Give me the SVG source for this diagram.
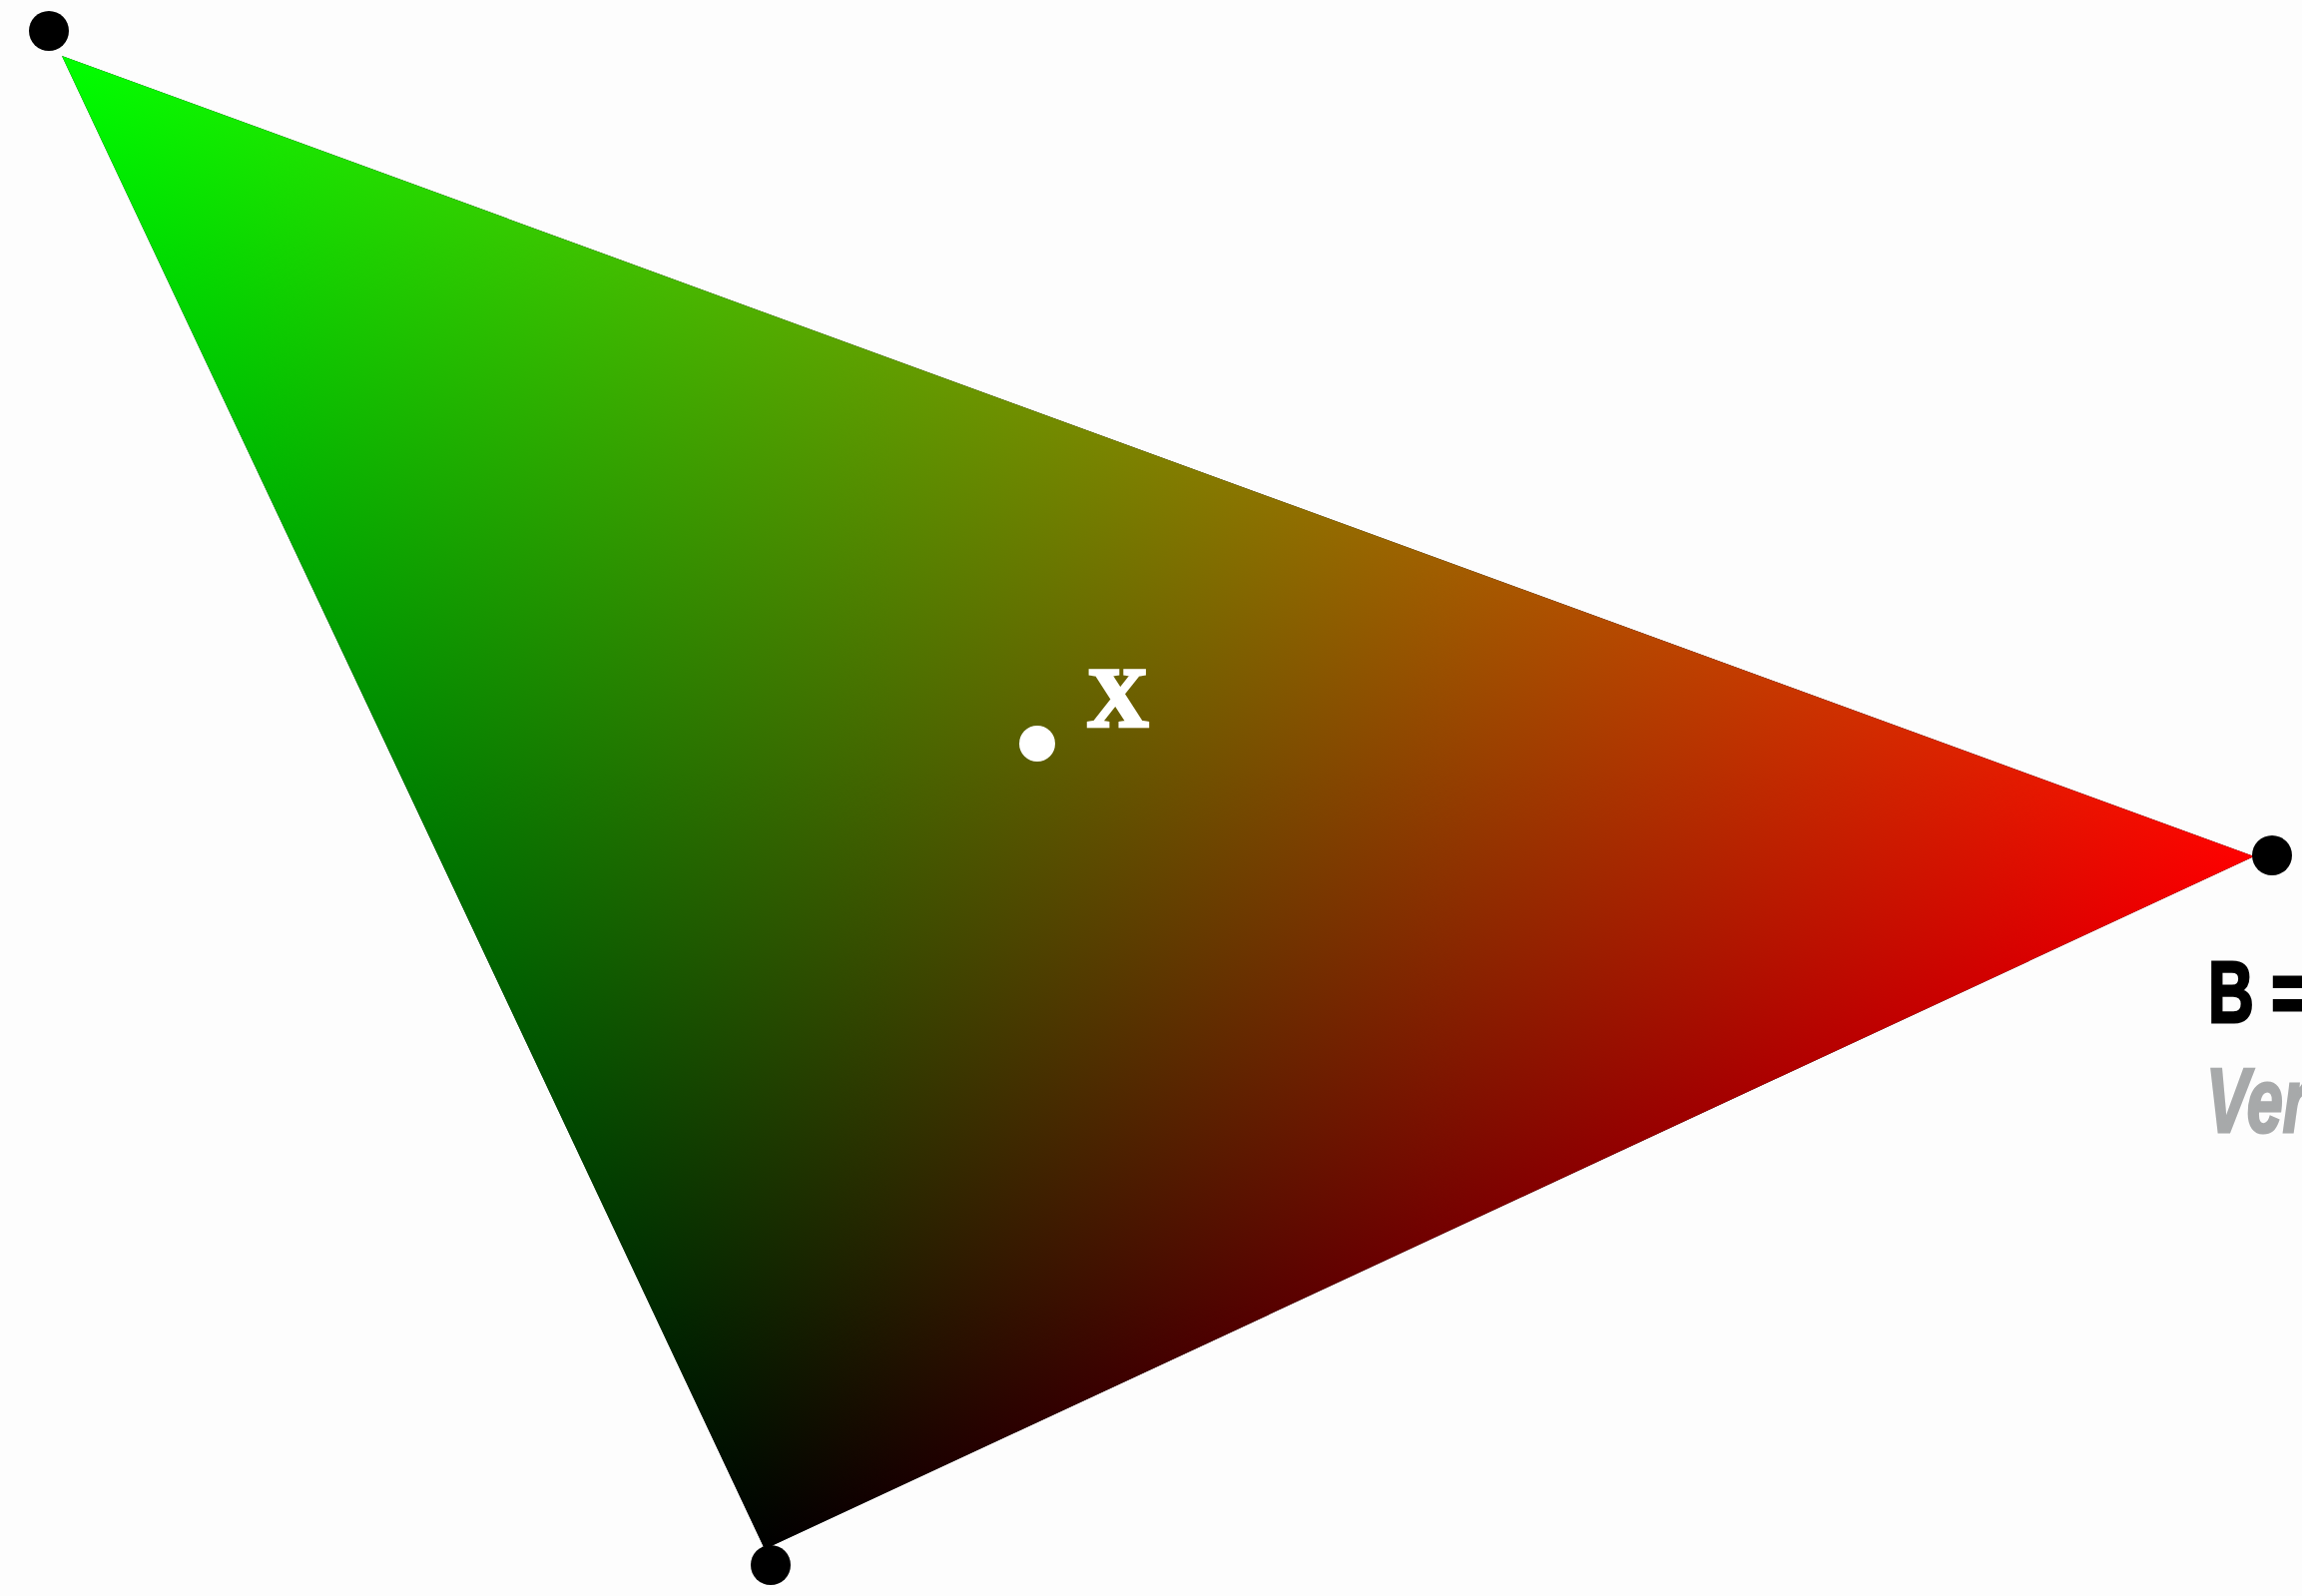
<svg xmlns="http://www.w3.org/2000/svg" width="2306" height="1599" viewBox="0 0 2306 1599">
  <style>
    .vdot { fill: #000000; }
    .pdot { fill: #ffffff; }
    .lbl { font-family: "Liberation Sans", Arial, sans-serif; font-weight: bold; font-size: 88px; fill: #000000; stroke: #000000; stroke-width: 3; }
    .sub { font-family: "Liberation Sans", Arial, sans-serif; font-weight: bold; font-style: italic; font-size: 90px; fill: #a7a9aa; stroke: #a7a9aa; stroke-width: 3; }
    .xl { font-family: "Liberation Serif", "DejaVu Serif", "Times New Roman", serif; font-weight: bold; font-size: 85px; fill: #ffffff; stroke: #ffffff; stroke-width: 3.5; }
  </style>
  <defs>
    <linearGradient id="gRed" gradientUnits="userSpaceOnUse" x1="769" y1="1559" x2="2258" y2="858">
      <stop offset="0" stop-color="#000000"/>
      <stop offset="1" stop-color="#ff0000"/>
    </linearGradient>
    <linearGradient id="gGreen" gradientUnits="userSpaceOnUse" x1="759" y1="1555" x2="62" y2="56">
      <stop offset="0" stop-color="#000000"/>
      <stop offset="1" stop-color="#00ff00"/>
    </linearGradient>
  </defs>
  <rect width="2306" height="1599" fill="#fdfdfd"/>
  <g id="triangle" style="isolation:isolate">
    <polygon points="62,56 2258,858 766,1552" fill="url(#gRed)"/>
    <polygon points="62,56 2258,858 766,1552" fill="url(#gGreen)" style="mix-blend-mode:screen"/>
  </g>
  <g id="vertex-A">
    <circle class="vdot" cx="49" cy="31" r="20"/>
  </g>
  <g id="vertex-B">
    <circle class="vdot" cx="2276" cy="857" r="20"/>
    <text class="lbl" transform="translate(2212,1024) scale(0.72,1)">B =</text>
    <text class="sub" transform="translate(2210,1134) scale(0.72,1)">Ver</text>
  </g>
  <g id="vertex-C">
    <circle class="vdot" cx="772" cy="1568" r="20"/>
  </g>
  <g id="point-x">
    <circle class="pdot" cx="1039" cy="745" r="18"/>
    <text class="xl" x="1089" y="728">X</text>
  </g>
  <g id="connectors"></g>
</svg>
